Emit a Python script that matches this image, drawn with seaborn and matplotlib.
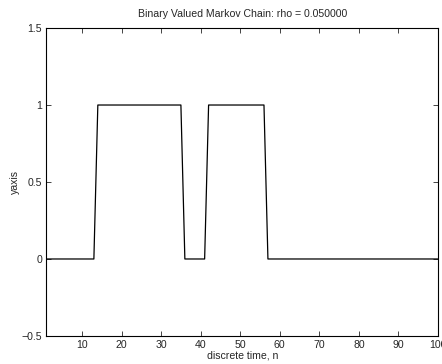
import numpy as np
import pandas as pd
import matplotlib
matplotlib.use('Agg')
import matplotlib.pyplot as plt
import seaborn as sns

# 二值馬可夫鏈樣本路徑 (n = 1..100)
n = list(range(1, 101))
state = [
    0, 0, 0, 0, 0, 0, 0, 0, 0, 0, 0, 0, 0, 1, 1, 1, 1, 1, 1, 1,
    1, 1, 1, 1, 1, 1, 1, 1, 1, 1, 1, 1, 1, 1, 1, 0, 0, 0, 0, 0,
    0, 1, 1, 1, 1, 1, 1, 1, 1, 1, 1, 1, 1, 1, 1, 1, 0, 0, 0, 0,
    0, 0, 0, 0, 0, 0, 0, 0, 0, 0, 0, 0, 0, 0, 0, 0, 0, 0, 0, 0,
    0, 0, 0, 0, 0, 0, 0, 0, 0, 0, 0, 0, 0, 0, 0, 0, 0, 0, 0, 0,
]
xticks = [10, 20, 30, 40, 50, 60, 70, 80, 90, 100]
yticks = [-0.5, 0, 0.5, 1, 1.5]
ytick_labels = ['\u22120.5', '0', '0.5', '1', '1.5']

df = pd.DataFrame({'n': n, 'state': state})

sns.set_style('ticks')
plt.rcParams['font.family'] = ['Liberation Sans', 'DejaVu Sans']
fs = 7.6

fig = plt.figure(figsize=(4.42, 3.64), dpi=100)
ax = fig.add_axes([0.105, 0.077, 0.886, 0.846])

sns.lineplot(data=df, x='n', y='state', color='k', linewidth=0.9, ax=ax)

ax.set_xlim(1, 100)
ax.set_ylim(-0.5, 1.5)
ax.set_xticks(xticks)
ax.set_yticks(yticks)
ax.set_yticklabels(ytick_labels)
ax.tick_params(direction='in', top=True, right=True, length=3.5, width=0.6,
               labelsize=fs, pad=3)
for sp in ax.spines.values():
    sp.set_linewidth(0.8)
    sp.set_color('k')

ax.set_title('Binary Valued Markov Chain: rho = 0.050000', fontsize=fs, pad=8)
ax.set_xlabel('discrete time, n', fontsize=fs, labelpad=0)
ax.set_ylabel('yaxis', fontsize=fs, labelpad=1)

fig.savefig('out.png', dpi=100)
